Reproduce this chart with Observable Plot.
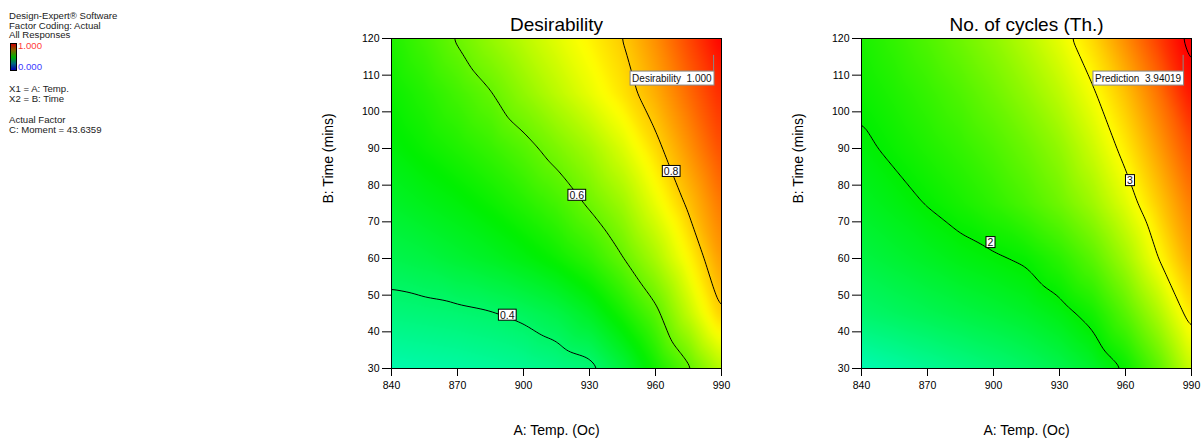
<!DOCTYPE html>
<html><head><meta charset="utf-8">
<script src="https://cdn.jsdelivr.net/npm/d3@7"></script>
<script src="https://cdn.jsdelivr.net/npm/@observablehq/plot@0.6"></script>
<style>
body{margin:0;background:#fff;font-family:"Liberation Sans",Arial,sans-serif;}
#root{position:relative;width:1204px;height:442px;overflow:hidden;background:#fff;}
.abs{position:absolute;white-space:nowrap;}
.info{font-size:9.6px;line-height:10px;color:#222;left:9px;}
</style></head><body><div id="root"></div>
<script>
const FONT = '"Liberation Sans", Arial, sans-serif';

// Axis ticks
const tempTicks = [840, 870, 900, 930, 960, 990];
const timeTicks = [30, 40, 50, 60, 70, 80, 90, 100, 110, 120];

const gridTemp = [840, 855, 870, 885, 900, 915, 930, 945, 960, 975, 990];
const gridTime = [30, 45, 60, 75, 90, 105, 120];

// Desirability (rows follow gridTime, columns follow gridTemp)
const desirability = [
  [0.33, 0.335, 0.34, 0.348, 0.357, 0.37, 0.385, 0.44, 0.515, 0.59, 0.68],
  [0.38, 0.385, 0.39, 0.397, 0.41, 0.43, 0.465, 0.52, 0.585, 0.69, 0.80],
  [0.425, 0.435, 0.45, 0.465, 0.485, 0.51, 0.545, 0.597, 0.665, 0.755, 0.85],
  [0.46, 0.475, 0.49, 0.51, 0.535, 0.565, 0.607, 0.655, 0.73, 0.81, 0.885],
  [0.49, 0.51, 0.53, 0.553, 0.583, 0.62, 0.66, 0.715, 0.785, 0.855, 0.925],
  [0.51, 0.535, 0.565, 0.597, 0.64, 0.683, 0.728, 0.775, 0.83, 0.895, 0.96],
  [0.53, 0.565, 0.605, 0.645, 0.683, 0.722, 0.76, 0.80, 0.86, 0.93, 1.0]
];

// No. of cycles (Th.)
const cycles = [
  [1.3, 1.36, 1.42, 1.48, 1.54, 1.61, 1.7, 1.83, 2.02, 2.35, 2.8],
  [1.58, 1.63, 1.68, 1.73, 1.78, 1.84, 1.93, 2.07, 2.34, 2.68, 3.1],
  [1.74, 1.8, 1.86, 1.925, 1.975, 2.03, 2.16, 2.35, 2.63, 3.0, 3.36],
  [1.86, 1.93, 2.01, 2.09, 2.18, 2.29, 2.43, 2.62, 2.88, 3.2, 3.52],
  [1.96, 2.04, 2.12, 2.2, 2.3, 2.42, 2.57, 2.8, 3.07, 3.38, 3.7],
  [2.04, 2.12, 2.21, 2.31, 2.43, 2.57, 2.74, 2.97, 3.24, 3.55, 3.93],
  [2.1, 2.2, 2.31, 2.43, 2.56, 2.72, 2.91, 3.15, 3.45, 3.76, 4.08]
];

// Contour levels
const desirabilityLevels = [0.4, 0.6, 0.8];
const cyclesLevels = [2, 3, 4];

// Contour label positions (Temp, Time, text)
const desirabilityLabelTemp = [892.6, 924.2, 967.1];
const desirabilityLabelTime = [44.5, 77.2, 83.7];
const desirabilityLabelText = ["0.4", "0.6", "0.8"];
const cyclesLabelTemp = [898.6, 962.0];
const cyclesLabelTime = [64.3, 81.2];
const cyclesLabelText = ["2", "3"];

// Flagged optimum point
const desirabilityFlag = {temp: 986.4, time: 115.4, text: "Desirability\u00A0\u00A01.000"};
const cyclesFlag = {temp: 986.2, time: 115.4, text: "Prediction\u00A0\u00A03.94019"};

// Colour scales
const colorRange = ["#0000ff", "#00ffff", "#00f000", "#ffff00", "#ff0000"];
const desirabilityColorDomain = [0, 0.25, 0.5, 0.75, 1];
const cyclesColorDomain = [0, 1, 2, 3, 4];

// Info text on the left
const infoLines = [
  ["Design-Expert\u00AE Software", 18.5, "#222"],
  ["Factor Coding: Actual", 28.5, "#222"],
  ["All Responses", 38, "#222"],
  ["1.000", 49, "#ff3b3b"],
  ["0.000", 70, "#3b3bff"],
  ["X1 = A: Temp.", 91.7, "#222"],
  ["X2 = B: Time", 101.7, "#222"],
  ["Actual Factor", 123, "#222"],
  ["C: Moment = 43.6359", 133, "#222"]
];

function surface(values) {
  const rows = [];
  gridTime.forEach((m, j) => gridTemp.forEach((t, i) => rows.push({temp: t, time: m, value: values[j][i]})));
  return rows;
}
function labelRows(ts, ms, txt) {
  return ts.map((t, i) => ({temp: t, time: ms[i], text: txt[i]}));
}

function makePlot({values, levels, colorDomain, labels, flag, title, width, marginRight}) {
  const data = surface(values);
  const bounds = {x1: gridTemp[0], x2: gridTemp[gridTemp.length - 1], y1: gridTime[0], y2: gridTime[gridTime.length - 1]};
  return Plot.plot({
    width, height: 442, marginLeft: 91, marginRight, marginTop: 38, marginBottom: 74,
    style: {fontFamily: FONT, background: "transparent", color: "#000", overflow: "visible"},
    x: {domain: [bounds.x1, bounds.x2]},
    y: {domain: [bounds.y1, bounds.y2]},
    color: {type: "linear", domain: colorDomain, range: colorRange, interpolate: "rgb", clamp: true},
    marks: [
      Plot.raster(data, {x: "temp", y: "time", fill: "value", interpolate: "barycentric", ...bounds, pixelSize: 1, blur: 3}),
      Plot.contour(data, {x: "temp", y: "time", value: "value", thresholds: levels, interpolate: "barycentric", ...bounds, pixelSize: 1, blur: 4, stroke: "black", strokeWidth: 1, fill: "none"}),
      Plot.frame({stroke: "black"}),
      Plot.axisX(tempTicks, {tickSize: 8, tickPadding: 5, fontSize: 10.5, label: null}),
      Plot.axisY(timeTicks, {tickSize: 9, tickPadding: 3, fontSize: 10.5, label: null}),
      Plot.text([title], {text: d => d, frameAnchor: "top", dy: -8, lineAnchor: "bottom", fontSize: 19}),
      Plot.text(["A: Temp. (Oc)"], {text: d => d, frameAnchor: "bottom", dy: 66, lineAnchor: "bottom", fontSize: 14}),
      Plot.text(["B: Time (mins)"], {text: d => d, frameAnchor: "left", dx: -68, rotate: -90, lineAnchor: "top", fontSize: 14}),
      Plot.ruleX([flag], {x: "temp", y1: "time", y2: "time", insetBottom: -16, stroke: "#888"}),
      Plot.text([flag], {x: "temp", y: "time", text: "text", textAnchor: "end", dx: -2, dy: 23, fontSize: 10, fill: "#111"}),
      Plot.text(labels, {x: "temp", y: "time", text: "text", fontSize: 10.5, fill: "#111"})
    ]
  });
}

function boxTexts(svg, texts, h, pad, stroke) {
  svg.querySelectorAll("text").forEach(t => {
    if (!texts.includes(t.textContent)) return;
    const b = t.getBBox();
    const r = document.createElementNS("http://www.w3.org/2000/svg", "rect");
    const cy = b.y + b.height / 2;
    r.setAttribute("x", b.x - pad);
    r.setAttribute("y", cy - h / 2);
    r.setAttribute("width", b.width + 2 * pad);
    r.setAttribute("height", h);
    r.setAttribute("fill", "white");
    r.setAttribute("stroke", stroke);
    r.setAttribute("stroke-width", 1);
    const tr = t.getAttribute("transform");
    if (tr) r.setAttribute("transform", tr);
    t.parentNode.insertBefore(r, t);
  });
}

const root = document.getElementById("root");

// Info block
infoLines.forEach(([txt, base, col]) => {
  const d = document.createElement("div");
  d.className = "abs info";
  d.textContent = txt;
  d.style.top = (base - 8) + "px";
  d.style.color = col;
  if (txt === "1.000" || txt === "0.000") d.style.left = "18px";
  root.appendChild(d);
});
const bar = document.createElement("div");
bar.className = "abs";
Object.assign(bar.style, {left: "10px", top: "43px", width: "5px", height: "26px", border: "1px solid #000",
  background: "linear-gradient(to bottom, #c80000, #7a6a00 25%, #00b000 50%, #006a7a 75%, #0000b0)"});
root.appendChild(bar);

const p1 = makePlot({values: desirability, levels: desirabilityLevels, colorDomain: desirabilityColorDomain,
  labels: labelRows(desirabilityLabelTemp, desirabilityLabelTime, desirabilityLabelText),
  flag: desirabilityFlag, title: "Desirability", width: 440, marginRight: 19});
p1.classList.add("abs"); p1.style.left = "300px"; p1.style.top = "0px";
root.appendChild(p1);

const p2 = makePlot({values: cycles, levels: cyclesLevels, colorDomain: cyclesColorDomain,
  labels: labelRows(cyclesLabelTemp, cyclesLabelTime, cyclesLabelText),
  flag: cyclesFlag, title: "No. of cycles (Th.)", width: 434, marginRight: 13});
p2.classList.add("abs"); p2.style.left = "770px"; p2.style.top = "0px";
root.appendChild(p2);

[p1, p2].forEach(svg => {
  boxTexts(svg, desirabilityLabelText.concat(cyclesLabelText), 11, 1.5, "#000");
  boxTexts(svg, [desirabilityFlag.text, cyclesFlag.text], 14, 2, "#888");
});
</script>
</body></html>
